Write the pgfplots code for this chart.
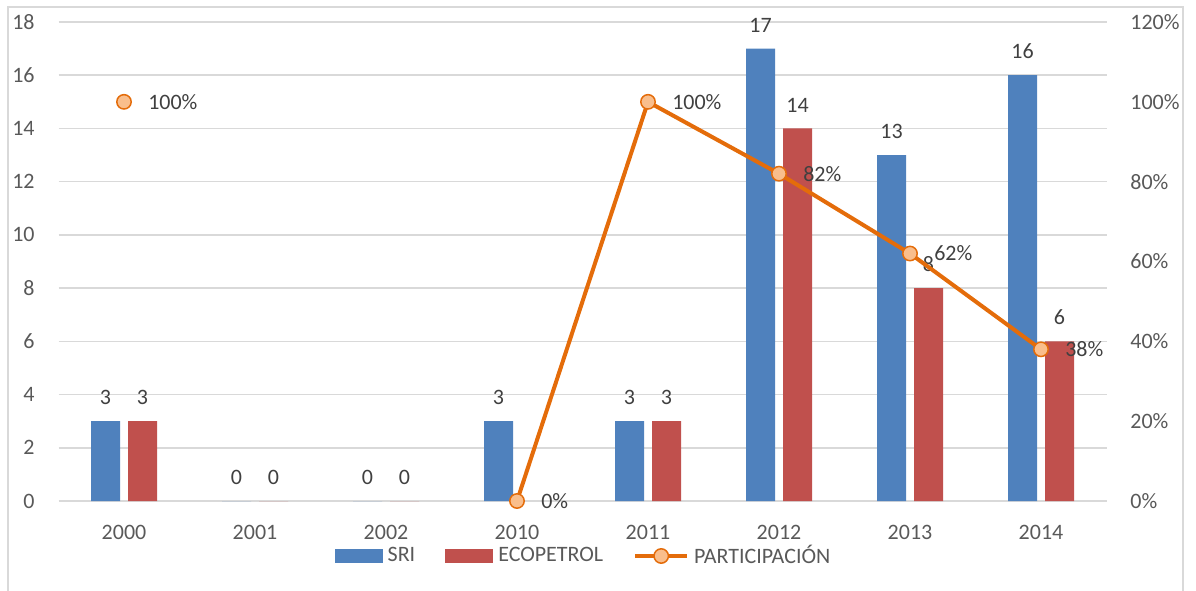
\documentclass[border=0pt]{standalone}
\usepackage{pgfplots}
\pgfplotsset{compat=1.18}
\usepackage{fontspec}
\setmainfont{Carlito}
\definecolor{sri}{HTML}{4F81BD}
\definecolor{eco}{HTML}{C0504D}
\definecolor{lin}{HTML}{E46C0A}
\definecolor{mk}{HTML}{F9BE8C}
\definecolor{grd}{HTML}{D9D9D9}
\definecolor{txt}{HTML}{595959}
\definecolor{dtxt}{HTML}{404040}
\pgfplotsset{
  barlegend/.style={legend image code/.code={\fill[##1] (0pt,-3.5pt) rectangle (24pt,3.5pt);}},
  linelegend/.style={legend image code/.code={\draw[mark repeat=2,mark phase=2,##1] plot coordinates {(0pt,0pt) (13pt,0pt) (26pt,0pt)};}},
  common/.style={
    at={(29.25pt,44.5pt)}, anchor=south west,
    width=524pt, height=239.5pt, scale only axis,
    xmin=-0.5, xmax=7.5,
    axis line style={draw=none}, major tick length=0pt,
    tick label style={font=\fontsize{11pt}{13pt}\selectfont, text=txt, inner sep=0pt},
    /pgf/number format/assume math mode=true,
  },
}
\begin{document}
\begin{tikzpicture}
\useasboundingbox (0,0) rectangle (598pt,295pt);
\draw[grd, line width=0.75pt] (4pt,-5pt) rectangle (591.5pt,291.5pt);
\begin{axis}[common,
  ymin=0, ymax=18,
  xtick={0,...,7}, xticklabels={2000,2001,2002,2010,2011,2012,2013,2014},
  ytick={0,2,...,18},
  ymajorgrids, grid style={grd, line width=0.75pt},
  xticklabel style={yshift=-12pt},
  yticklabel style={xshift=-11.75pt},
  ybar, bar width=14.5pt,
  nodes near coords,
  every node near coord/.append style={font=\fontsize{11pt}{13pt}\selectfont, text=dtxt, inner sep=0pt, anchor=south, yshift=8pt},
]
\addplot[fill=sri, draw=none, bar shift=-9.25pt] coordinates {(0,3)(1,0)(2,0)(3,3)(4,3)(5,17)(6,13)(7,16)};
\addplot[fill=eco, draw=none, bar shift=9.25pt] coordinates {(0,3)(1,0)(2,0)(4,3)(5,14)(6,8)(7,6)};
\end{axis}
\begin{axis}[common,
  ymin=0, ymax=120,
  xtick=\empty,
  ytick={0,20,...,120},
  yticklabel pos=right,
  yticklabel={\pgfmathprintnumber{\tick}\%},
  yticklabel style={xshift=11.75pt},
  unbounded coords=jump,
  legend columns=-1,
  legend style={at={(0.5,-0.1148)}, anchor=center, draw=none, fill=none, inner sep=0pt,
    nodes={inner sep=0pt}, font=\fontsize{11pt}{13pt}\selectfont, text=txt,
    /tikz/every odd column/.append style={column sep=2.5pt},
    /tikz/every even column/.append style={column sep=15pt}},
]
\addlegendimage{fill=sri, draw=none, barlegend}
\addlegendentry{SRI}
\addlegendimage{fill=eco, draw=none, barlegend}
\addlegendentry{ECOPETROL}
\addplot[lin, line width=2pt, mark=*, mark size=3.6pt,
  mark options={fill=mk, draw=lin, line width=0.75pt},
  linelegend,
  nodes near coords={\pgfmathprintnumber{\pgfplotspointmeta}\%},
  every node near coord/.append style={font=\fontsize{11pt}{13pt}\selectfont, text=dtxt, inner sep=0pt, anchor=west, xshift=11.75pt},
] coordinates {(0,100)(1,nan)(2,nan)(3,0)(4,100)(5,82)(6,62)(7,38)};
\addlegendentry{PARTICIPACIÓN}
\end{axis}
\end{tikzpicture}
\end{document}
